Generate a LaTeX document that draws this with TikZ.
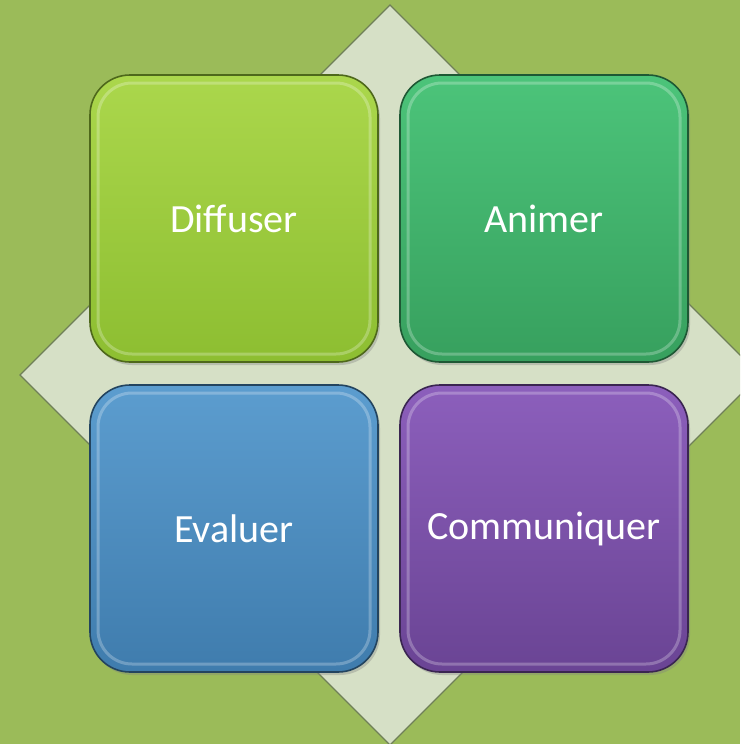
\documentclass[tikz,border=0pt]{standalone}
\usepackage{fontspec}
\setmainfont{Carlito}
\usetikzlibrary{positioning,shadows}
\definecolor{bggreen}{HTML}{9BBB59}
\definecolor{paper}{HTML}{D6E0C6}
\definecolor{paperline}{HTML}{6F7F58}
\definecolor{limetop}{HTML}{ABD74C}
\definecolor{limebot}{HTML}{8DBE31}
\definecolor{greentop}{HTML}{4CC47A}
\definecolor{greenbot}{HTML}{37A05E}
\definecolor{bluetop}{HTML}{5C9DCF}
\definecolor{bluebot}{HTML}{3F7CAD}
\definecolor{purptop}{HTML}{8C5FBC}
\definecolor{purpbot}{HTML}{6A4494}
\tikzset{
  tile/.style 2 args={rounded corners=20pt, minimum width=144pt,
    minimum height=143.5pt, outer sep=0pt, inner sep=0pt,
    top color=#1, bottom color=#2, draw=#2!55!black, line width=0.8pt,
    drop shadow={shadow xshift=1pt, shadow yshift=-1.5pt, opacity=.35},
    text=white, font=\fontsize{20}{24}\selectfont},
  gloss/.style={draw=white, draw opacity=.25, line width=1.5pt,
    rounded corners=17pt}
}

\begin{document}
\begin{tikzpicture}[x=0.5pt,y=-0.5pt]
% Background and bounding box
\fill[bggreen] (0,0) rectangle (740,744);
\useasboundingbox (0,0) rectangle (740,744);
\clip (0,0) rectangle (740,744);

% Diamond behind the tiles
\coordinate (T) at (390,5);
\coordinate (L) at (20,375);
\coordinate (B) at (390,745);
\coordinate (R) at (760,375);
\draw[fill=paper, draw=paperline, line width=0.6pt] (T) -- (L) -- (B) -- (R) -- cycle;

% Four tiles
\node[tile={limetop}{limebot}] (diffuser) at (234,218.5) {Diffuser};
\node[tile={greentop}{greenbot}, right=11pt of diffuser] (animer) {Animer};
\node[tile={bluetop}{bluebot}, below=11.5pt of diffuser] (evaluer) {Evaluer};
\node[tile={purptop}{purpbot}, right=11pt of evaluer] (communiquer) {Communiquer};

% Glossy rims
\foreach \n in {diffuser,animer,evaluer,communiquer}
  \draw[gloss] ([shift={(4pt,-4pt)}]\n.north west) rectangle ([shift={(-4pt,4pt)}]\n.south east);

\end{tikzpicture}
\end{document}
